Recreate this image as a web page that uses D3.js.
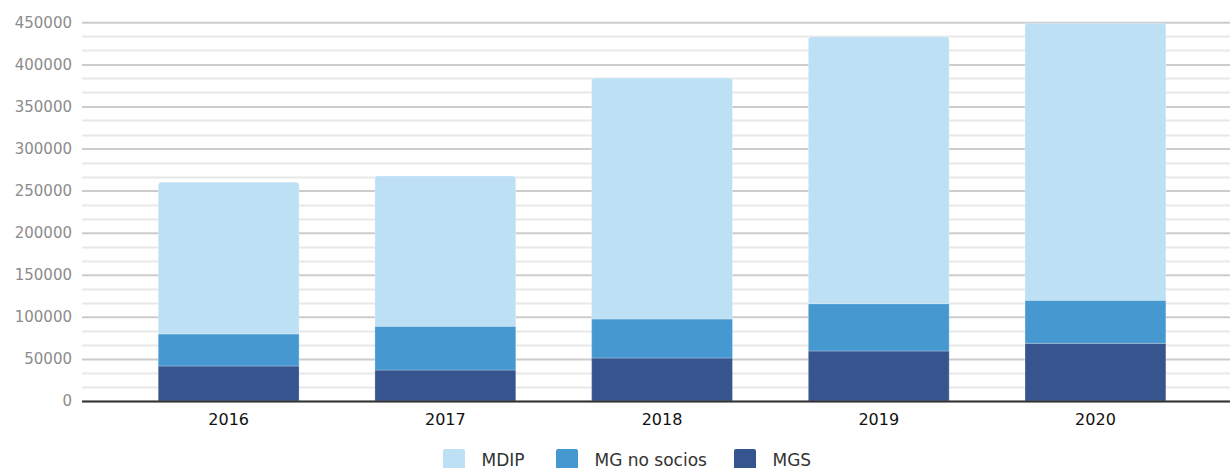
<html>
<head>
<script src="https://d3js.org/d3.v7.min.js"></script>
<style>
  body { margin: 0; background: #fff; }
  text { font-family: "DejaVu Sans", Verdana, sans-serif; }
</style>
</head>
<body>
<script>
// datos
var years = ["2016", "2017", "2018", "2019", "2020"];
var seriesNames = ["MGS", "MG no socios", "MDIP"];
var mgs = [41600, 36800, 51100, 59400, 68500];
var mgNoSocios = [38000, 52000, 46300, 56200, 51100];
var mdip = [180300, 178600, 286400, 317300, 329200];
var yTicks = [0, 50000, 100000, 150000, 200000, 250000, 300000, 350000, 400000, 450000];
var colors = {"MGS": "#36558f", "MG no socios": "#4599d0", "MDIP": "#bde0f5"};
var legendOrder = ["MDIP", "MG no socios", "MGS"];

var width = 1230, height = 468;
var plot = {left: 82, right: 1230, top: 22.3, bottom: 401};

var svg = d3.select("body").append("svg")
    .attr("width", width)
    .attr("height", height);

var rows = years.map(function(y, i) {
    return {year: y, "MGS": mgs[i], "MG no socios": mgNoSocios[i], "MDIP": mdip[i]};
});

var x = d3.scaleBand().domain(years).range([120.3, 1203.8])
    .paddingInner(0.35).paddingOuter(0.175);
var y = d3.scaleLinear().domain([0, 450000]).range([plot.bottom, plot.top]);

// rejilla menor
var minor = d3.range(0, 450001, 50000 / 3).filter(function(v) {
    return Math.abs(v / 50000 - Math.round(v / 50000)) > 0.01;
});
svg.append("g").selectAll("line").data(minor).enter().append("line")
    .attr("x1", plot.left).attr("x2", plot.right)
    .attr("y1", function(d) { return Math.round(y(d)) + 0.5; })
    .attr("y2", function(d) { return Math.round(y(d)) + 0.5; })
    .attr("stroke", "#e8e8e8").attr("stroke-width", 2);

// eje y con rejilla mayor
var yAxis = svg.append("g")
    .attr("transform", "translate(" + plot.left + ",0)")
    .call(d3.axisLeft(y).tickValues(yTicks).tickSize(-(plot.right - plot.left))
        .tickPadding(10).tickFormat(d3.format("d")));
yAxis.select(".domain").remove();
yAxis.selectAll(".tick line").attr("stroke", "#cccccc").attr("stroke-width", 2);
yAxis.selectAll(".tick text")
    .attr("fill", "#8c8c8c")
    .style("font-size", "15px")
    .style("font-family", "'DejaVu Sans', Verdana, sans-serif");

// barras apiladas
var stack = d3.stack().keys(seriesNames)(rows);
var r = 3;
svg.append("g").selectAll("g").data(stack).enter().append("g")
    .attr("fill", function(d) { return colors[d.key]; })
    .each(function(layer, li) {
        var g = d3.select(this);
        layer.forEach(function(d) {
            var x0 = x(d.data.year), w = x.bandwidth();
            var yTop = y(d[1]), yBot = y(d[0]);
            var p;
            if (li === stack.length - 1) {
                p = "M" + x0 + "," + yBot + "V" + (yTop + r) +
                    "Q" + x0 + "," + yTop + " " + (x0 + r) + "," + yTop +
                    "H" + (x0 + w - r) +
                    "Q" + (x0 + w) + "," + yTop + " " + (x0 + w) + "," + (yTop + r) +
                    "V" + yBot + "Z";
            } else {
                p = "M" + x0 + "," + yBot + "V" + yTop + "H" + (x0 + w) + "V" + yBot + "Z";
            }
            g.append("path").attr("d", p)
                .attr("stroke", "rgba(255,255,255,0.25)").attr("stroke-width", 1);
        });
    });

// eje x
svg.append("line")
    .attr("x1", plot.left).attr("x2", plot.right)
    .attr("y1", plot.bottom + 0.5).attr("y2", plot.bottom + 0.5)
    .attr("stroke", "#333").attr("stroke-width", 2);

var xAxis = svg.append("g")
    .attr("transform", "translate(0," + plot.bottom + ")")
    .call(d3.axisBottom(x).tickSize(0).tickPadding(13));
xAxis.select(".domain").remove();
xAxis.selectAll(".tick text")
    .attr("fill", "#111")
    .style("font-size", "16px")
    .style("font-family", "'DejaVu Sans', Verdana, sans-serif");

// leyenda
var legendX = [443, 556, 734];
var legend = svg.append("g").selectAll("g").data(legendOrder).enter().append("g")
    .attr("transform", function(d, i) { return "translate(" + legendX[i] + ",449)"; });
legend.append("rect")
    .attr("width", 22).attr("height", 22).attr("rx", 2)
    .attr("fill", function(d) { return colors[d]; });
legend.append("text")
    .attr("x", 38.5).attr("y", 17)
    .attr("fill", "#333")
    .style("font-size", "17px")
    .text(function(d) { return d; });
</script>
</body>
</html>
